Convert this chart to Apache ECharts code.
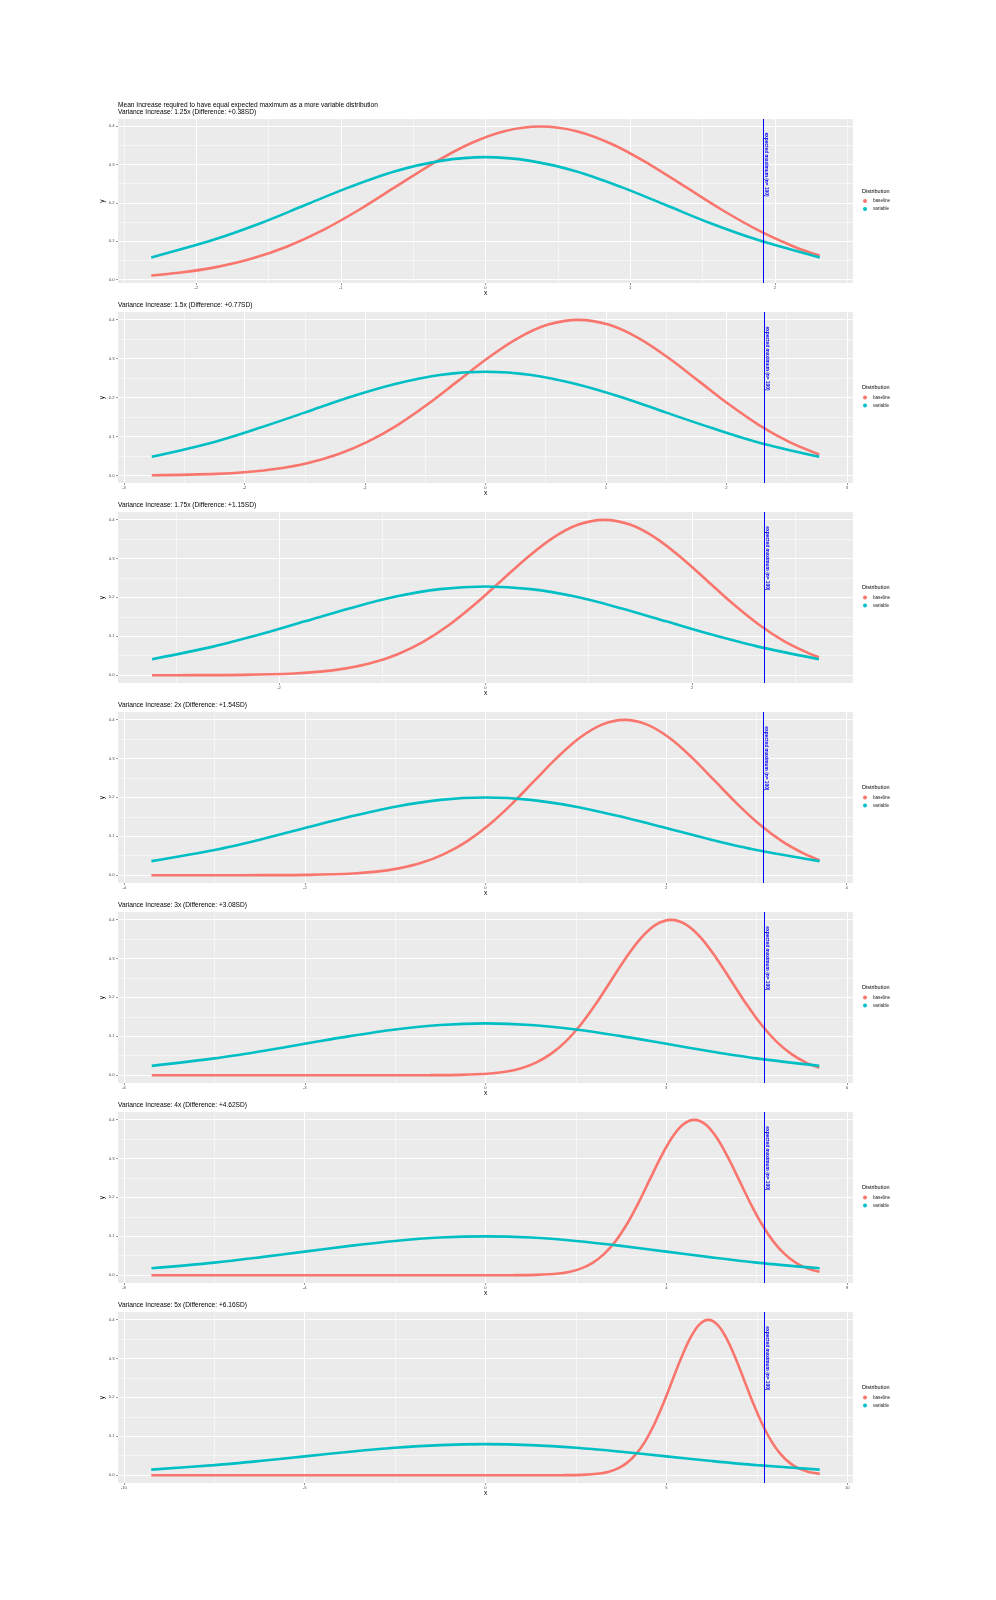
<!DOCTYPE html>
<html>
<head>
<meta charset="utf-8">
<title>Mean Increase vs variance</title>
<script src="https://cdn.jsdelivr.net/npm/echarts@6/dist/echarts.min.js"></script>
<style>
html, body { margin: 0; padding: 0; background: #ffffff; }
#main { width: 996px; height: 1600px; }
</style>
</head>
<body>
<div id="main"></div>
<script>
// data
var mainTitle = 'Mean Increase required to have equal expected maximum as a more variable distribution';
var varianceIncrease = ['1.25', '1.5', '1.75', '2', '3', '4', '5'];
var difference = ['+0.38', '+0.77', '+1.15', '+1.54', '+3.08', '+4.62', '+6.16'];
var expectedMax = [1.92, 2.31, 2.70, 3.08, 4.62, 6.16, 7.70];
var maxLabel = 'expected maximum (n= 100)';
var maxLabelY = 0.3;
var seriesNames = ['baseline', 'variable'];

// axis limits and ticks
var xLimits = [2.54, 3.05, 3.56, 4.07, 6.10, 8.13, 10.16];
var yLimits = [[-0.009, 0.4185], [-0.019, 0.419], [-0.02, 0.419], [-0.02, 0.419], [-0.02, 0.419], [-0.02, 0.419], [-0.02, 0.419]];
var xMajor = [
    [-2, -1, 0, 1, 2],
    [-3, -2, -1, 0, 1, 2, 3],
    [-2, 0, 2],
    [-4, -2, 0, 2, 4],
    [-6, -3, 0, 3, 6],
    [-8, -4, 0, 4, 8],
    [-10, -5, 0, 5, 10]
];
var xMinor = [
    [-2.5, -1.5, -0.5, 0.5, 1.5, 2.5],
    [-2.5, -1.5, -0.5, 0.5, 1.5, 2.5],
    [-3, -1, 1, 3],
    [-3, -1, 1, 3],
    [-4.5, -1.5, 1.5, 4.5],
    [-6, -2, 2, 6],
    [-7.5, -2.5, 2.5, 7.5]
];
var yMajor = [0, 0.1, 0.2, 0.3, 0.4];
var yMinor = [0.05, 0.15, 0.25, 0.35];

// curves: [x, density]
var baseline125 = [[-2.31,0.0107],[-2.12,0.0175],[-1.87,0.0317],[-1.62,0.0540],[-1.37,0.0863],[-1.12,0.1295],[-0.87,0.1826],[-0.62,0.2420],[-0.37,0.3011],[-0.12,0.3521],[0.13,0.3867],[0.38,0.3989],[0.63,0.3867],[0.88,0.3521],[1.13,0.3011],[1.38,0.2420],[1.63,0.1826],[1.88,0.1295],[2.13,0.0863],[2.31,0.0620]];
var variable125 = [[-2.31,0.0577],[-1.88,0.1036],[-1.56,0.1461],[-1.25,0.1936],[-0.94,0.2409],[-0.63,0.2817],[-0.31,0.3094],[0,0.3191],[0.31,0.3094],[0.63,0.2817],[0.94,0.2409],[1.25,0.1936],[1.56,0.1461],[1.88,0.1036],[2.31,0.0577]];

var baseline150 = [[-2.77,0.0008],[-2.23,0.0044],[-1.98,0.0091],[-1.73,0.0175],[-1.48,0.0317],[-1.23,0.0540],[-0.98,0.0863],[-0.73,0.1295],[-0.48,0.1826],[-0.23,0.2420],[0.02,0.3011],[0.27,0.3521],[0.52,0.3867],[0.77,0.3989],[1.02,0.3867],[1.27,0.3521],[1.52,0.3011],[1.77,0.2420],[2.02,0.1826],[2.27,0.1295],[2.52,0.0863],[2.77,0.0540]];
var variable150 = [[-2.77,0.0481],[-2.25,0.0863],[-1.88,0.1217],[-1.5,0.1613],[-1.13,0.2007],[-0.75,0.2347],[-0.38,0.2578],[0,0.2659],[0.38,0.2578],[0.75,0.2347],[1.13,0.2007],[1.5,0.1613],[1.88,0.1217],[2.25,0.0863],[2.77,0.0481]];

var baseline175 = [[-3.23,0.0000],[-2.85,0.0001],[-2.35,0.0009],[-1.85,0.0044],[-1.60,0.0091],[-1.35,0.0175],[-1.10,0.0317],[-0.85,0.0540],[-0.60,0.0863],[-0.35,0.1295],[-0.10,0.1826],[0.15,0.2420],[0.40,0.3011],[0.65,0.3521],[0.90,0.3867],[1.15,0.3989],[1.40,0.3867],[1.65,0.3521],[1.90,0.3011],[2.15,0.2420],[2.40,0.1826],[2.65,0.1295],[2.90,0.0863],[3.15,0.0540],[3.23,0.0459]];
var variable175 = [[-3.23,0.0412],[-2.63,0.0740],[-2.19,0.1043],[-1.75,0.1383],[-1.31,0.1721],[-0.88,0.2012],[-0.44,0.2210],[0,0.2279],[0.44,0.2210],[0.88,0.2012],[1.31,0.1721],[1.75,0.1383],[2.19,0.1043],[2.63,0.0740],[3.23,0.0412]];

var baseline200 = [[-3.70,0.0000],[-2.96,0.0000],[-2.46,0.0001],[-1.96,0.0009],[-1.46,0.0044],[-1.21,0.0091],[-0.96,0.0175],[-0.71,0.0317],[-0.46,0.0540],[-0.21,0.0863],[0.04,0.1295],[0.29,0.1826],[0.54,0.2420],[0.79,0.3011],[1.04,0.3521],[1.29,0.3867],[1.54,0.3989],[1.79,0.3867],[2.04,0.3521],[2.29,0.3011],[2.54,0.2420],[2.79,0.1826],[3.04,0.1295],[3.29,0.0863],[3.54,0.0540],[3.70,0.0387]];
var variable200 = [[-3.70,0.0361],[-3.0,0.0648],[-2.5,0.0913],[-2.0,0.1210],[-1.5,0.1506],[-1.0,0.1760],[-0.5,0.1934],[0,0.1995],[0.5,0.1934],[1.0,0.1760],[1.5,0.1506],[2.0,0.1210],[2.5,0.0913],[3.0,0.0648],[3.70,0.0361]];

var baseline300 = [[-5.54,0.0000],[-3.50,0.0000],[-1.50,0.0000],[-0.92,0.0001],[-0.42,0.0009],[0.08,0.0044],[0.33,0.0091],[0.58,0.0175],[0.83,0.0317],[1.08,0.0540],[1.33,0.0863],[1.58,0.1295],[1.83,0.1826],[2.08,0.2420],[2.33,0.3011],[2.58,0.3521],[2.83,0.3867],[3.08,0.3989],[3.33,0.3867],[3.58,0.3521],[3.83,0.3011],[4.08,0.2420],[4.33,0.1826],[4.58,0.1295],[4.83,0.0863],[5.08,0.0540],[5.33,0.0317],[5.54,0.0194]];
var variable300 = [[-5.54,0.0240],[-4.5,0.0432],[-3.75,0.0609],[-3.0,0.0807],[-2.25,0.1004],[-1.5,0.1174],[-0.75,0.1289],[0,0.1330],[0.75,0.1289],[1.5,0.1174],[2.25,0.1004],[3.0,0.0807],[3.75,0.0609],[4.5,0.0432],[5.54,0.0240]];

var baseline400 = [[-7.39,0.0000],[-4.50,0.0000],[-1.50,0.0000],[-0.40,0.0000],[0.62,0.0001],[1.12,0.0009],[1.62,0.0044],[1.87,0.0091],[2.12,0.0175],[2.37,0.0317],[2.62,0.0540],[2.87,0.0863],[3.12,0.1295],[3.37,0.1826],[3.62,0.2420],[3.87,0.3011],[4.12,0.3521],[4.37,0.3867],[4.62,0.3989],[4.87,0.3867],[5.12,0.3521],[5.37,0.3011],[5.62,0.2420],[5.87,0.1826],[6.12,0.1295],[6.37,0.0863],[6.62,0.0540],[6.87,0.0317],[7.12,0.0175],[7.39,0.0086]];
var variable400 = [[-7.39,0.0180],[-6.0,0.0324],[-5.0,0.0457],[-4.0,0.0605],[-3.0,0.0753],[-2.0,0.0880],[-1.0,0.0967],[0,0.0997],[1.0,0.0967],[2.0,0.0880],[3.0,0.0753],[4.0,0.0605],[5.0,0.0457],[6.0,0.0324],[7.39,0.0180]];

var baseline500 = [[-9.24,0.0000],[-6.00,0.0000],[-3.00,0.0000],[0.00,0.0000],[1.50,0.0000],[2.16,0.0001],[2.66,0.0009],[3.16,0.0044],[3.41,0.0091],[3.66,0.0175],[3.91,0.0317],[4.16,0.0540],[4.41,0.0863],[4.66,0.1295],[4.91,0.1826],[5.16,0.2420],[5.41,0.3011],[5.66,0.3521],[5.91,0.3867],[6.16,0.3989],[6.41,0.3867],[6.66,0.3521],[6.91,0.3011],[7.16,0.2420],[7.41,0.1826],[7.66,0.1295],[7.91,0.0863],[8.16,0.0540],[8.41,0.0317],[8.66,0.0175],[8.91,0.0091],[9.24,0.0035]];
var variable500 = [[-9.24,0.0144],[-7.5,0.0259],[-6.25,0.0365],[-5.0,0.0484],[-3.75,0.0602],[-2.5,0.0704],[-1.25,0.0773],[0,0.0798],[1.25,0.0773],[2.5,0.0704],[3.75,0.0602],[5.0,0.0484],[6.25,0.0365],[7.5,0.0259],[9.24,0.0144]];

var baselineCurves = [baseline125, baseline150, baseline175, baseline200, baseline300, baseline400, baseline500];
var variableCurves = [variable125, variable150, variable175, variable200, variable300, variable400, variable500];

// ---- layout / style ----
var FONT = 'Liberation Sans, Arial, sans-serif';
var RED = '#F8766D';
var TEAL = '#00BFC4';
var PANEL_LEFT = 118;
var PANEL_RIGHT = 143;

function panelBox(i) {
    if (i === 0) return { top: 119, height: 164 };
    return { top: 312 + 200 * (i - 1), height: 171 };
}

// white grid lines drawn as mark lines (major 1px, minor 0.5px)
function gridLines(i) {
    var out = [];
    xMinor[i].forEach(function (v) { out.push({ xAxis: v, lineStyle: { width: 0.5 } }); });
    yMinor.forEach(function (v) { out.push({ yAxis: v, lineStyle: { width: 0.5 } }); });
    xMajor[i].forEach(function (v) { out.push({ xAxis: v, lineStyle: { width: 1 } }); });
    yMajor.forEach(function (v) { out.push({ yAxis: v, lineStyle: { width: 1 } }); });
    return out;
}

var myChart = echarts.init(document.getElementById('main'));

var grids = [], xAxes = [], yAxes = [], series = [], titles = [], legends = [];

for (var i = 0; i < 7; i++) {
    var box = panelBox(i);
    var mid = box.top + box.height / 2;

    grids.push({
        left: PANEL_LEFT, right: PANEL_RIGHT, top: box.top, height: box.height,
        show: true, backgroundColor: '#EBEBEB', borderWidth: 0
    });

    xAxes.push({
        type: 'value', gridIndex: i, min: -xLimits[i], max: xLimits[i], position: 'bottom',
        name: 'x', nameLocation: 'middle', nameGap: 7, nameMoveOverlap: false,
        nameTextStyle: { fontFamily: FONT, fontSize: 6.5, color: '#000' },
        axisLine: { show: false, onZero: false },
        axisTick: { show: true, length: 2, customValues: xMajor[i], lineStyle: { color: '#333333', width: 0.5 } },
        axisLabel: { show: true, customValues: xMajor[i], margin: 3, fontFamily: FONT, fontSize: 4.2, color: '#4D4D4D' },
        splitLine: { show: false }
    });

    yAxes.push({
        type: 'value', gridIndex: i, min: yLimits[i][0], max: yLimits[i][1], position: 'left',
        name: 'y', nameLocation: 'middle', nameGap: 12, nameMoveOverlap: false,
        nameTextStyle: { fontFamily: FONT, fontSize: 6.5, color: '#000' },
        axisLine: { show: false, onZero: false },
        axisTick: { show: true, length: 2, customValues: yMajor, lineStyle: { color: '#333333', width: 0.5 } },
        axisLabel: {
            show: true, customValues: yMajor, margin: 3.5, fontFamily: FONT, fontSize: 4.2, color: '#4D4D4D',
            formatter: function (v) { return v.toFixed(1); }
        },
        splitLine: { show: false }
    });

    // grid lines
    series.push({
        type: 'line', xAxisIndex: i, yAxisIndex: i, data: [], silent: true, z: 1,
        markLine: {
            silent: true, z: 1, symbol: ['none', 'none'], label: { show: false },
            lineStyle: { color: '#FFFFFF', type: 'solid' },
            emphasis: { disabled: true },
            data: gridLines(i)
        }
    });

    series.push({
        name: seriesNames[0], type: 'line', xAxisIndex: i, yAxisIndex: i,
        data: baselineCurves[i], showSymbol: false, smooth: 0.33,
        color: RED, lineStyle: { color: RED, width: 2.6 }, z: 3
    });
    series.push({
        name: seriesNames[1], type: 'line', xAxisIndex: i, yAxisIndex: i,
        data: variableCurves[i], showSymbol: false, smooth: 0.33,
        color: TEAL, lineStyle: { color: TEAL, width: 2.6 }, z: 3
    });
    // expected maximum line
    series.push({
        type: 'line', xAxisIndex: i, yAxisIndex: i, data: [], silent: true, z: 4,
        markLine: {
            silent: true, z: 4, symbol: ['none', 'none'], label: { show: false },
            lineStyle: { color: '#0000FF', width: 1, type: 'solid' },
            emphasis: { disabled: true },
            data: [{ xAxis: expectedMax[i] }]
        }
    });

    var head = 'Variance Increase: ' + varianceIncrease[i] + 'x (Difference: ' + difference[i] + 'SD)';
    titles.push({
        text: i === 0 ? mainTitle + '\n' + head : head,
        left: PANEL_LEFT, top: i === 0 ? box.top - 17.5 : box.top - 10.5, padding: 0,
        textStyle: { fontFamily: FONT, fontSize: 6.6, fontWeight: 'normal', color: '#000', lineHeight: 7 }
    });
    titles.push({
        text: 'Distribution', left: 862, top: mid - 13, padding: 0,
        textStyle: { fontFamily: FONT, fontSize: 5.5, fontWeight: 'normal', color: '#000' }
    });

    legends.push({
        data: seriesNames, orient: 'vertical', left: 863, top: mid - 2.5, padding: 0,
        icon: 'circle', itemWidth: 4, itemHeight: 5, itemGap: 3, selectedMode: false,
        textStyle: { fontFamily: FONT, fontSize: 4.6, color: '#1A1A1A', padding: [0, 0, 0, 1] }
    });
}

var option = {
    animation: false,
    backgroundColor: '#FFFFFF',
    title: titles,
    legend: legends,
    grid: grids,
    xAxis: xAxes,
    yAxis: yAxes,
    series: series
};
myChart.setOption(option);

// rotated "expected maximum" labels, placed through the axes' scales
var labels = [];
for (var k = 0; k < 7; k++) {
    var p = myChart.convertToPixel({ xAxisIndex: k, yAxisIndex: k }, [expectedMax[k], maxLabelY]);
    labels.push({
        type: 'text', x: p[0] + 3, y: p[1], rotation: -Math.PI / 2, z: 10, silent: true,
        style: {
            text: maxLabel, fill: '#0000FF', align: 'center', verticalAlign: 'middle',
            font: 'bold 4.8px Liberation Sans, Arial, sans-serif'
        }
    });
}
myChart.setOption({ graphic: labels });
</script>
</body>
</html>
